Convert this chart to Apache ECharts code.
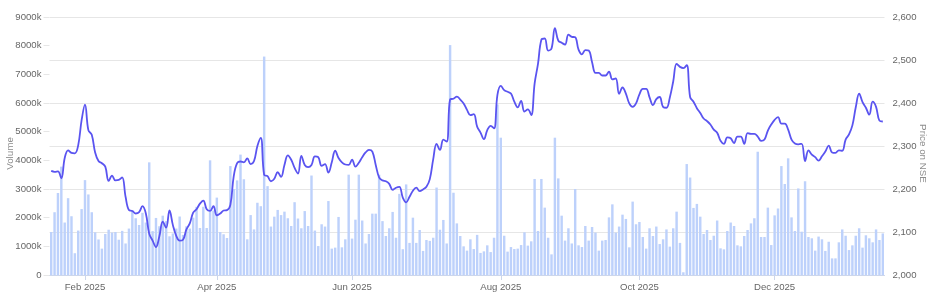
<!DOCTYPE html>
<html>
<head>
<meta charset="utf-8">
<script src="https://cdn.jsdelivr.net/npm/echarts@6/dist/echarts.min.js"></script>
<style>html,body{margin:0;padding:0;background:#fff;}#c{width:940px;height:304px;}</style>
</head>
<body>
<div id="c"></div>
<script>
// Trading calendar (NSE): weekdays in range, minus holidays, plus special sessions
const startDate = '2025-01-20';
const endDate = '2026-01-16';
const holidays = ['2025-02-26','2025-03-14','2025-03-31','2025-04-10','2025-04-14','2025-04-18','2025-05-01',
  '2025-08-15','2025-08-27','2025-10-02','2025-10-22','2025-11-05','2025-12-25','2026-01-15'];
const specialSessions = ['2025-02-01'];

// Daily volume (thousands of shares)
const volumeK = [
  1500,2190,2860,3780,1830,2680,2050,760,1550,2300,
  3310,2810,2190,1490,1240,920,1430,1580,1480,1500,
  1230,1540,1100,1620,2250,1980,1745,2170,1830,3930,
  1530,1990,1700,2070,1880,1350,1450,1620,2040,1400,
  1700,1620,2000,2380,1640,2380,1640,4000,2250,2700,
  1500,1420,1290,3800,3000,3300,4200,3340,1245,2090,
  1590,2520,2400,7620,3100,1690,2035,2270,2090,2210,
  1980,1710,2540,1970,1630,2230,1710,3470,1550,1010,
  1770,1690,2580,920,955,2025,965,1245,3500,1270,
  1930,3500,1900,1100,1430,2140,2140,3500,1880,1360,
  1630,2200,1300,2830,900,3160,1120,2000,1120,1570,
  840,1220,1190,1300,3050,1580,1920,1100,8020,2870,
  1800,1360,1000,850,1245,905,1400,770,825,1035,
  800,1300,5950,4790,1370,815,975,905,920,1045,
  1490,1025,1175,3350,1535,3350,2350,1300,720,4790,
  3370,2070,1200,1630,1100,3000,1035,975,1710,1200,
  1675,1480,850,1200,1220,2010,2465,1480,1690,2105,
  1955,965,2560,1770,1850,1325,920,1630,1360,1690,
  1080,1245,1590,990,1630,2210,1120,95,3870,3400,
  2340,2480,2035,1430,1570,1220,1370,1900,930,895,
  1535,1830,1710,1035,1000,1360,1570,1800,1980,4300,
  1325,1325,2350,1045,2080,2320,3800,3175,4070,2010,
  1535,3020,1510,3270,1325,1280,850,1340,1245,840,
  1160,580,580,1140,1590,1370,870,1035,1370,1630,
  955,1385,1280,1140,1590,1220,1450
];

// Daily closing price on NSE
const price = [
  2242,2240,2241,2225,2272,2290,2284,2283,2302,2360,
  2396,2337,2326,2285,2265,2260,2252,2219,2231,2220,
  2221,2227,2182,2151,2149,2143,2146,2160,2143,2096,
  2080,2065,2090,2124,2110,2150,2116,2091,2080,2082,
  2106,2120,2145,2153,2166,2173,2153,2149,2160,2139,
  2143,2150,2151,2163,2230,2260,2264,2262,2271,2258,
  2265,2300,2319,2233,2230,2218,2224,2239,2228,2256,
  2278,2268,2249,2236,2277,2256,2251,2256,2276,2274,
  2254,2258,2238,2262,2289,2272,2262,2257,2256,2268,
  2252,2261,2274,2285,2291,2287,2256,2227,2220,2218,
  2212,2198,2203,2205,2180,2169,2182,2196,2203,2195,
  2199,2205,2223,2269,2305,2291,2315,2310,2408,2410,
  2415,2408,2399,2384,2372,2374,2345,2331,2316,2337,
  2347,2341,2419,2440,2430,2426,2422,2403,2390,2405,
  2380,2385,2372,2445,2491,2547,2550,2522,2527,2574,
  2545,2540,2536,2559,2554,2553,2524,2513,2523,2522,
  2495,2470,2470,2464,2464,2473,2455,2457,2421,2436,
  2422,2399,2391,2399,2420,2433,2433,2413,2395,2409,
  2414,2391,2389,2413,2450,2491,2484,2481,2488,2414,
  2403,2388,2377,2364,2358,2350,2338,2331,2312,2305,
  2320,2318,2307,2322,2322,2305,2330,2328,2328,2322,
  2312,2315,2336,2350,2361,2367,2352,2352,2338,2315,
  2306,2304,2305,2265,2290,2280,2274,2266,2276,2287,
  2301,2285,2284,2290,2289,2315,2327,2348,2390,2422,
  2402,2389,2373,2403,2391,2359,2357
];

// Axis scales
const volumeAxis = { min: 0, max: 9000, step: 1000 };
const priceAxis = { min: 2000, max: 2600, step: 100 };
const monthNames = ['Jan','Feb','Mar','Apr','May','Jun','Jul','Aug','Sep','Oct','Nov','Dec'];

function pad(n){return n<10?'0'+n:''+n;}
function buildDates(){
  const out=[];
  const d=new Date(startDate+'T00:00:00Z');
  const end=new Date(endDate+'T00:00:00Z');
  while(d<=end){
    const s=d.getUTCFullYear()+'-'+pad(d.getUTCMonth()+1)+'-'+pad(d.getUTCDate());
    const wd=d.getUTCDay();
    if((wd!==0&&wd!==6&&holidays.indexOf(s)<0)||specialSessions.indexOf(s)>=0) out.push(s);
    d.setUTCDate(d.getUTCDate()+1);
  }
  return out;
}
const dates = buildDates();

// first trading day of Feb, Apr, Jun, Aug, Oct, Dec get a label
const labelIdx = new Set();
for(let i=0;i<dates.length;i++){
  const m=+dates[i].slice(5,7);
  const prevM = i>0 ? +dates[i-1].slice(5,7) : -1;
  if(m!==prevM && m%2===0 && i>0) labelIdx.add(i);
}
const isLabel = (idx)=>labelIdx.has(idx);

const FONT = 'Liberation Sans, Arial, sans-serif';
const chart = echarts.init(document.getElementById('c'), null, {renderer:'canvas'});
chart.setOption({
  animation:false,
  backgroundColor:'#ffffff',
  grid:{left:49.5,right:55.5,top:17,bottom:29,containLabel:false,outerBoundsMode:'none'},
  xAxis:{
    type:'category', data:dates, boundaryGap:true,
    axisLine:{show:true,lineStyle:{color:'#ccd6eb',width:1}},
    axisTick:{show:true,alignWithLabel:true,interval:isLabel,length:5,lineStyle:{color:'#ccd6eb'}},
    axisLabel:{show:true,interval:isLabel,margin:7,color:'#666666',fontSize:9.6,fontFamily:FONT,
      formatter:(v)=>monthNames[+v.slice(5,7)-1]+' '+v.slice(0,4)},
    splitLine:{show:false}
  },
  yAxis:[
    {
      type:'value', position:'left', min:volumeAxis.min, max:volumeAxis.max, interval:volumeAxis.step,
      name:'Volume', nameLocation:'middle', nameGap:34, nameRotate:90, nameMoveOverlap:false,
      nameTextStyle:{color:'#8c8c8c',fontSize:9.8,fontFamily:FONT,padding:[0,15,0,0]},
      axisLine:{show:false},
      axisTick:{show:true,length:6,lineStyle:{color:'#e6e6e6'}},
      axisLabel:{margin:8,color:'#666666',fontSize:9.6,fontFamily:FONT,
        formatter:(v)=>v===0?'0':v+'k'},
      splitLine:{show:false}
    },
    {
      type:'value', position:'right', min:priceAxis.min, max:priceAxis.max, interval:priceAxis.step,
      name:'Price on NSE', nameLocation:'middle', nameGap:33, nameRotate:-90, nameMoveOverlap:false,
      nameTextStyle:{color:'#8c8c8c',fontSize:9.8,fontFamily:FONT,padding:[0,0,0,15]},
      axisLine:{show:false},
      axisTick:{show:false},
      axisLabel:{margin:8,color:'#666666',fontSize:9.6,fontFamily:FONT,
        formatter:(v)=>v.toLocaleString('en-US')},
      splitLine:{show:true,lineStyle:{color:'#e6e6e6',width:1}}
    }
  ],
  series:[
    {
      name:'Volume', type:'bar', yAxisIndex:0, data:volumeK,
      barCategoryGap:'28%',
      itemStyle:{color:'#bdd1fb'},
      z:2
    },
    {
      name:'Price', type:'line', yAxisIndex:1, data:price,
      smooth:0.4, showSymbol:false, symbol:'none',
      lineStyle:{color:'#5a54f0',width:1.8},
      z:3
    }
  ]
});
</script>
</body>
</html>
